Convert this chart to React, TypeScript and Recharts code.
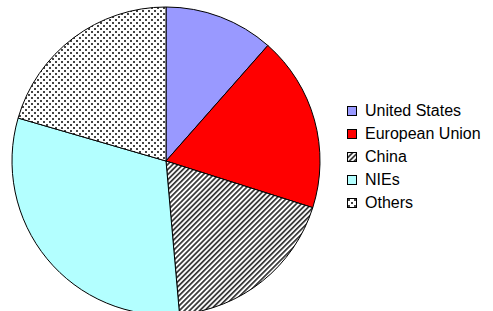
import { PieChart, Pie, Cell } from "recharts";

const regions = ["United States", "European Union", "China", "NIEs", "Others"];
const shares = [11.5, 18.4, 18.7, 30.9, 20.5];
const fills = ["#9999ff", "#ff0000", "url(#stripes)", "#b3ffff", "url(#dots)"];

const data = regions.map((name, i) => ({ name, value: shares[i] }));

function Patterns() {
  return (
    <defs>
      <pattern
        id="stripes"
        width="3.6"
        height="4"
        patternUnits="userSpaceOnUse"
        patternTransform="rotate(45)"
      >
        <rect width="3.6" height="4" fill="#fff" />
        <rect x="0" y="0" width="1.7" height="4" fill="#333" />
      </pattern>
      <pattern id="dots" width="6" height="6" patternUnits="userSpaceOnUse">
        <rect width="6" height="6" fill="#fff" />
        <rect x="1" y="1" width="2" height="2" fill="#444" />
        <rect x="4" y="4" width="2" height="2" fill="#444" />
      </pattern>
    </defs>
  );
}

export default function App() {
  return (
    <div
      style={{
        position: "absolute",
        left: 0,
        top: 0,
        width: 493,
        height: 311,
        background: "#fff",
        fontFamily: "'Liberation Sans', Arial, sans-serif",
      }}
    >
      <PieChart
        width={493}
        height={311}
        margin={{ top: 0, right: 0, bottom: 0, left: 0 }}
      >
        <Patterns />
        <Pie
          data={data}
          dataKey="value"
          cx={166}
          cy={161}
          outerRadius={154}
          startAngle={90}
          endAngle={-270}
          stroke="#000"
          strokeWidth={1}
          isAnimationActive={false}
        >
          {data.map((d, i) => (
            <Cell key={d.name} fill={fills[i]} />
          ))}
        </Pie>
      </PieChart>
      <div style={{ position: "absolute", left: 347, top: 99 }}>
        {data.map((d, i) => (
          <div
            key={d.name}
            style={{
              display: "flex",
              alignItems: "center",
              height: 23.2,
              fontSize: 16,
              color: "#000",
            }}
          >
            <svg width={10} height={10} style={{ marginRight: 8 }}>
              <rect
                x={0.5}
                y={0.5}
                width={9}
                height={9}
                fill={fills[i]}
                stroke="#000"
                strokeWidth={1}
              />
            </svg>
            {d.name}
          </div>
        ))}
      </div>
    </div>
  );
}
